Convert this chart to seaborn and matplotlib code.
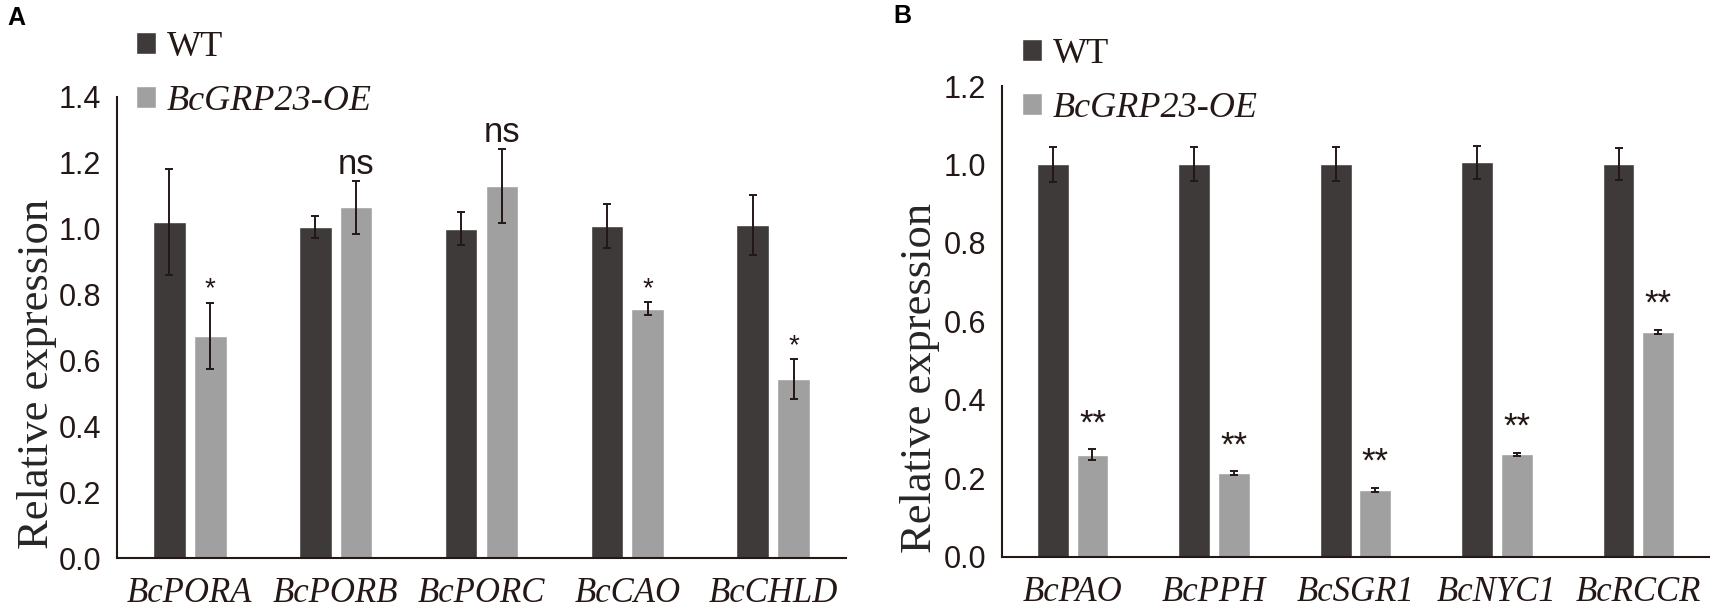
"""qRT-PCR of chlorophyll genes in WT vs BcGRP23-OE (panels A and B)."""
import matplotlib.pyplot as plt
import pandas as pd
import seaborn as sns

# --- data ---
lines = ["WT", "BcGRP23-OE"]

genes_a = ["BcPORA", "BcPORB", "BcPORC", "BcCAO", "BcCHLD"]
wt_a = [1.02, 1.005, 1.0, 1.008, 1.011]
wt_err_a = [0.16, 0.033, 0.05, 0.066, 0.09]
oe_a = [0.675, 1.065, 1.13, 0.757, 0.543]
oe_err_a = [0.10, 0.08, 0.113, 0.019, 0.06]
sig_a = ["*", "ns", "ns", "*", "*"]

genes_b = ["BcPAO", "BcPPH", "BcSGR1", "BcNYC1", "BcRCCR"]
wt_b = [1.0, 1.002, 1.002, 1.005, 1.001]
wt_err_b = [0.044, 0.043, 0.043, 0.043, 0.04]
oe_b = [0.26, 0.213, 0.17, 0.261, 0.574]
oe_err_b = [0.014, 0.005, 0.006, 0.004, 0.005]
sig_b = ["**", "**", "**", "**", "**"]

DARK = "#3e3a39"
LIGHT = "#a0a0a0"
INK = "#231815"

sns.set_style("white")
plt.rcParams["font.family"] = ["Liberation Sans", "DejaVu Sans"]
plt.rcParams["axes.edgecolor"] = INK
plt.rcParams["axes.linewidth"] = 1.5
plt.rcParams["xtick.color"] = INK
plt.rcParams["ytick.color"] = INK
plt.rcParams["text.color"] = INK

W, H = 1713, 612
fig = plt.figure(figsize=(W / 100, H / 100), dpi=100)
ax_a = fig.add_axes([117 / W, 1 - 558 / H, (846 - 117) / W, (558 - 97) / H])
ax_b = fig.add_axes([1002 / W, 1 - 556.7 / H, (1709 - 1002) / W, (556.7 - 86) / H])


def draw_panel(ax, genes, wt, wt_err, oe, oe_err, sig, ymax, sig_sizes, sig_offsets):
    df = pd.DataFrame({
        "Gene": genes + genes,
        "Line": [lines[0]] * len(genes) + [lines[1]] * len(genes),
        "Expression": wt + oe,
    })
    sns.barplot(data=df, x="Gene", y="Expression", hue="Line",
                palette=[DARK, LIGHT], saturation=1, width=0.56, gap=0.2,
                errorbar=None, ax=ax)

    for cont, err in zip(ax.containers, [wt_err, oe_err]):
        xs = [b.get_x() + b.get_width() / 2 for b in cont]
        ys = [b.get_height() for b in cont]
        ax.errorbar(xs, ys, yerr=err, fmt="none", ecolor=INK,
                    elinewidth=1.4, capsize=3, capthick=1.4)

    for bar, e, s in zip(ax.containers[1], oe_err, sig):
        x = bar.get_x() + bar.get_width() / 2
        size = sig_sizes[0] if s.startswith("*") else sig_sizes[1]
        off = sig_offsets[0] if s.startswith("*") else sig_offsets[1]
        ax.annotate(s, (x, bar.get_height() + e), xytext=(0, off),
                    textcoords="offset points", ha="center", va="baseline",
                    fontsize=size, annotation_clip=False)

    n = len(genes)
    nt = int(round(ymax / 0.2)) + 1
    ax.set_xlim(-0.5, n - 0.5)
    ax.set_ylim(0, ymax)
    ax.set_yticks([round(0.2 * i, 1) for i in range(nt)])
    ax.set_yticklabels([f"{0.2 * i:.1f}" for i in range(nt)])
    ax.set_xticks([i - 0.5 for i in range(n + 1)])
    ax.set_xticklabels([])
    ax.set_xticks(list(range(n)), minor=True)
    ax.set_xticklabels(genes, minor=True, family="Liberation Serif",
                       style="italic", fontsize=25)
    ax.tick_params(axis="x", which="major", direction="out", length=8, width=1.5)
    ax.tick_params(axis="x", which="minor", length=0, pad=14)
    ax.tick_params(axis="y", direction="out", length=6.5, width=1.5,
                   labelsize=22, pad=5)
    ax.set_xlabel("")
    ax.set_ylabel("Relative expression", family="Liberation Serif", fontsize=32)
    sns.despine(ax=ax)

    handles, labels = ax.get_legend_handles_labels()
    return handles, labels


def place_legend(ax, handles, labels, x, y):
    leg = ax.legend(handles, labels, loc="upper left", bbox_to_anchor=(x / W, 1 - y / H),
                    bbox_transform=fig.transFigure, frameon=False,
                    prop={"family": "Liberation Serif", "size": 26},
                    handlelength=0.55, handleheight=0.55, handletextpad=0.3,
                    labelspacing=0.57, borderpad=0, borderaxespad=0)
    leg.get_texts()[1].set_fontstyle("italic")


h, l = draw_panel(ax_a, genes_a, wt_a, wt_err_a, oe_a, oe_err_a, sig_a, 1.4,
                  (20, 25), (4.5, 5))
ax_a.yaxis.set_label_coords(-0.082, 0.40)
place_legend(ax_a, h, l, 136, 31)

h, l = draw_panel(ax_b, genes_b, wt_b, wt_err_b, oe_b, oe_err_b, sig_b, 1.2,
                  (25, 25), (11.5, 5))
ax_b.yaxis.set_label_coords(-0.088, 0.38)
place_legend(ax_b, h, l, 1022, 38)

fig.text(7 / W, 1 - 6 / H, "A", fontsize=18, fontweight="bold", va="top", color="black")
fig.text(893 / W, 1 - 4 / H, "B", fontsize=18, fontweight="bold", va="top", color="black")

fig.savefig("out.png", dpi=100)
